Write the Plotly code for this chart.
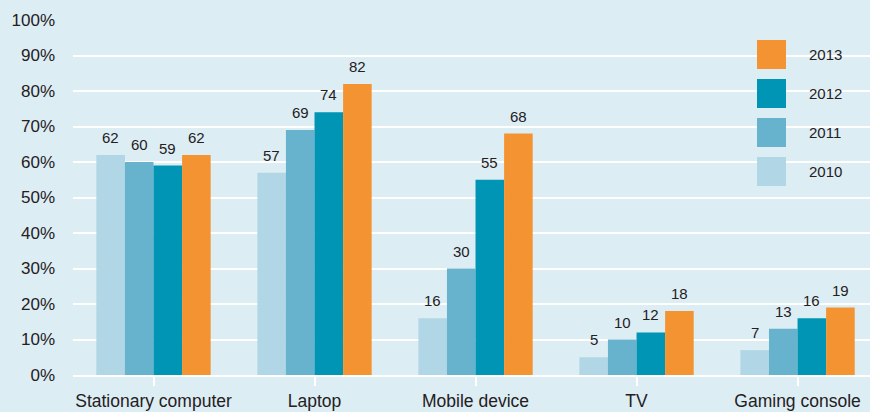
import plotly.graph_objects as go

categories = ["Stationary computer", "Laptop", "Mobile device", "TV", "Gaming console"]
years = ["2010", "2011", "2012", "2013"]
v2010 = [62, 57, 16, 5, 7]
v2011 = [60, 69, 30, 10, 13]
v2012 = [59, 74, 55, 12, 16]
v2013 = [62, 82, 68, 18, 19]
series = [v2010, v2011, v2012, v2013]
colors = ["#b1d6e5", "#67b2cc", "#0094b5", "#f49331"]
y_ticks = list(range(0, 101, 10))
y_labels = [f"{t}%" for t in y_ticks]

W, H = 870, 412
ML, MR, MT, MB = 73, 0, 20, 37
PW, PH = W - ML - MR, H - MT - MB
BG = "#ddedf4"
TXT = "#24201d"
FONT = "Liberation Sans, Arial, Helvetica, sans-serif"

def px_x(x):
    return (x - ML) / PW

def px_y(y):
    return (H - MB - y) / PH

fig = go.Figure()
for yr, vals, col in zip(years, series, colors):
    fig.add_trace(go.Bar(x=list(range(len(categories))), y=vals, name=yr,
                         marker=dict(color=col, line=dict(width=0)),
                         showlegend=False, hoverinfo="skip"))

bargap = 0.29
n = len(series)
bw = (1 - bargap) / n
annotations = []
for i, vals in enumerate(series):
    off = (i - (n - 1) / 2) * bw
    for j, v in enumerate(vals):
        annotations.append(dict(x=j + off, y=v, xref="x", yref="y", text=str(v),
                                showarrow=False, yanchor="bottom", yshift=7,
                                font=dict(size=15, color=TXT, family=FONT)))

shapes = [dict(type="rect", xref="paper", yref="paper", x0=px_x(720), x1=1.0,
               y0=px_y(212), y1=1.06, fillcolor=BG, line=dict(width=0), layer="between")]

# legend (top to bottom: 2013, 2012, 2011, 2010)
leg_top = 40
for k, (yr, col) in enumerate(reversed(list(zip(years, colors)))):
    y0 = leg_top + k * 39
    shapes.append(dict(type="rect", xref="paper", yref="paper",
                       x0=px_x(757), x1=px_x(786), y0=px_y(y0 + 29), y1=px_y(y0),
                       fillcolor=col, line=dict(width=0), layer="above"))
    annotations.append(dict(x=px_x(807), y=px_y(y0 + 14.5), xref="paper", yref="paper",
                            text=yr, showarrow=False, xanchor="left", yanchor="middle",
                            font=dict(size=15, color=TXT, family=FONT)))

fig.update_layout(
    width=W, height=H,
    margin=dict(l=ML, r=MR, t=MT, b=MB, pad=0),
    paper_bgcolor=BG, plot_bgcolor=BG,
    barmode="group", bargap=bargap, bargroupgap=0,
    font=dict(family=FONT, color=TXT, size=16),
    shapes=shapes, annotations=annotations,
    xaxis=dict(tickmode="array", tickvals=list(range(len(categories))), ticktext=categories,
               range=[-0.5, 4.45], showgrid=False, zeroline=False,
               showline=True, linecolor="white", linewidth=2,
               ticks="outside", tickson="boundaries", ticklen=9, tickwidth=1.5,
               tickcolor="white", tickfont=dict(size=17.5, color=TXT, family=FONT)),
    yaxis=dict(range=[0, 100], tickvals=y_ticks, ticktext=y_labels,
               showgrid=True, gridcolor="white", gridwidth=2, zeroline=False,
               showline=False, ticks="", ticklabelstandoff=17,
               tickfont=dict(size=17, color=TXT, family=FONT)),
)

fig.write_html("out.html", config={"displayModeBar": False},
               post_script="document.body.style.margin='0';document.body.style.background='" + BG + "';")
